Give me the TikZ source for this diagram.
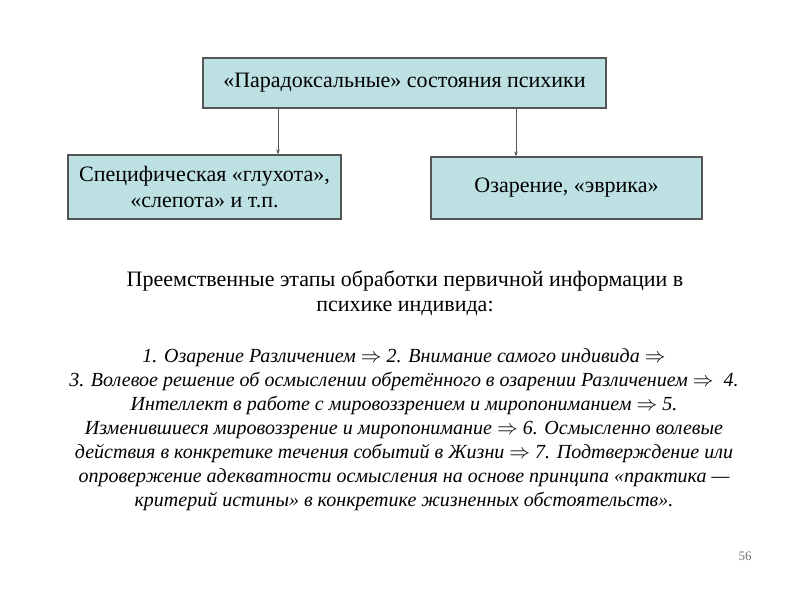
\documentclass[tikz,border=0pt]{standalone}
\usepackage{fontspec}
\setmainfont[Language=Russian]{Liberation Serif}
\usepackage{tikz}
\usetikzlibrary{arrows.meta,positioning}

\definecolor{boxfill}{HTML}{BDE0E3}
\definecolor{boxline}{HTML}{555555}

\begin{document}
\begin{tikzpicture}[x=1pt,y=-1pt,
  statebox/.style={draw=boxline,line width=1.2pt,fill=boxfill,align=center,
               inner sep=0pt,font=\fontsize{22}{26}\selectfont},
  arr/.style={-{Stealth[length=5pt,width=3.5pt]},draw=boxline,line width=0.6pt},
  bodytext/.style={align=center,inner sep=0pt,font=\fontsize{22}{25}\selectfont},
]
  \useasboundingbox (0,0) rectangle (800,600);

  \node[statebox,minimum width=403pt,minimum height=50pt] (paradox) at (404.5,83)
    {«Парадоксальные» состояния психики};
  \node[statebox,minimum width=273pt,minimum height=64pt] (blind) at (204.5,187)
    {Специфическая «глухота»,\\«слепота» и т.п.};
  \node[statebox,minimum width=271pt,minimum height=62pt] (eureka) at (566.5,188)
    {Озарение, «эврика»};

  \draw[arr] ([xshift=-126.5pt]paradox.south) -- ([xshift=-126.5pt]paradox.south |- blind.north);
  \draw[arr] ([xshift=111.5pt]paradox.south) -- ([xshift=111.5pt]paradox.south |- eureka.north);

  \node[bodytext] (stages) at (405,293)
    {Преемственные этапы обработки первичной информации в\\психике индивида:};

  \node[bodytext,font=\fontsize{20}{24}\selectfont\itshape] (chain) at (404,430)
    {1. Озарение Различением $\Rightarrow$ 2. Внимание самого индивида $\Rightarrow$\\
     3. Волевое решение об осмыслении обретённого в озарении Различением $\Rightarrow$\ \ 4.\\
     Интеллект в работе с мировоззрением и миропониманием $\Rightarrow$ 5.\\
     Изменившиеся мировоззрение и миропонимание $\Rightarrow$ 6. Осмысленно волевые\\
     действия в конкретике течения событий в Жизни $\Rightarrow$ 7. Подтверждение или\\
     опровержение адекватности осмысления на основе принципа «практика —\\
     критерий истины» в конкретике жизненных обстоятельств».};

  \node[font=\fontsize{13}{15}\selectfont,text=black!55] (pagenum) at (745,556) {56};
\end{tikzpicture}
\end{document}
